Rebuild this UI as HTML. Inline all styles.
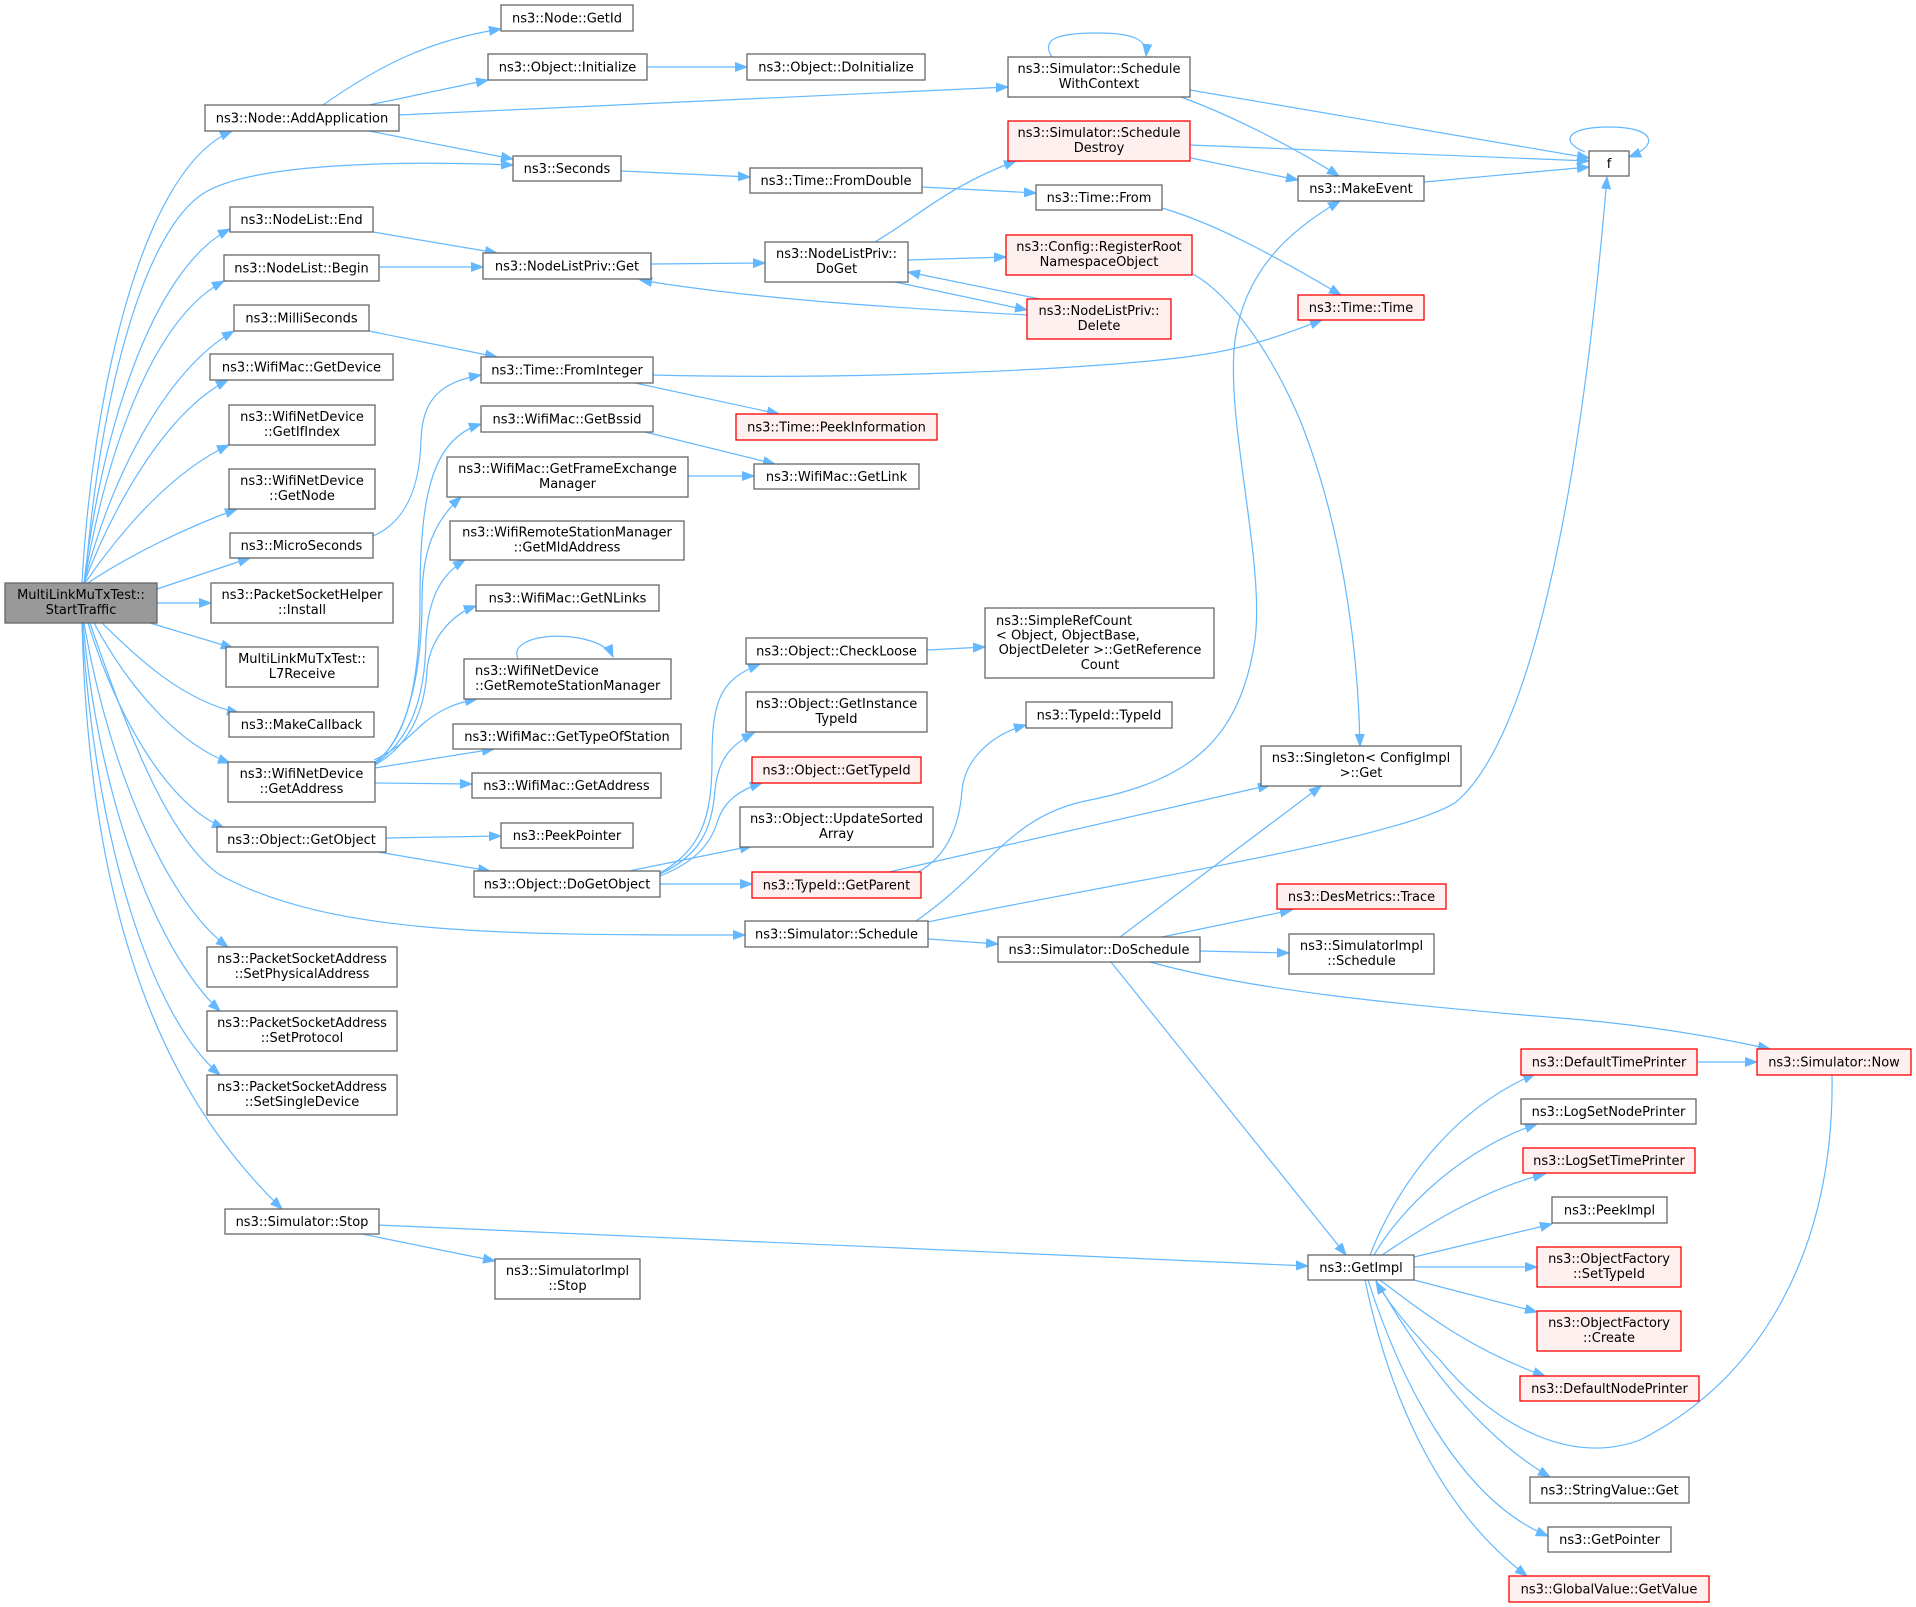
<!DOCTYPE html>
<html>
<head>
<meta charset="utf-8">
<style>
html,body{margin:0;padding:0;background:#fff;}
svg{display:block;}
text{font-family:"DejaVu Sans","Liberation Sans",sans-serif;font-size:13px;fill:#000;}
.n{fill:#fff;stroke:#666;stroke-width:1.3;}
.r{fill:#fff0f0;stroke:#ff0000;stroke-width:1.3;}
.root{fill:#999;stroke:#666;stroke-width:1.3;}
.e{fill:none;stroke:#63b8ff;stroke-width:1.2;marker-end:url(#a);}
</style>
</head>
<body>
<svg width="1916" height="1607" viewBox="0 0 1916 1607" xmlns="http://www.w3.org/2000/svg">
<defs>
<marker id="a" markerUnits="userSpaceOnUse" markerWidth="13" markerHeight="11" refX="12" refY="5" orient="auto">
<path d="M0,0.5 L12,5 L0,9.5 z" fill="#63b8ff" stroke="#63b8ff" stroke-width="1"/>
</marker>
</defs>
<rect width="1916" height="1607" fill="#fff"/>

<!-- edges -->
<g>
<path class="e" d="M82,583 C92,400 140,170 232,131"/>
<path class="e" d="M85,583 C100,390 145,230 204,193 C250,165 380,160 513,165"/>
<path class="e" d="M84,583 C100,440 150,270 230,229"/>
<path class="e" d="M84,583 C105,460 150,320 224,281"/>
<path class="e" d="M84,583 C110,480 165,370 234,331"/>
<path class="e" d="M84,583 C118,495 170,410 228,380"/>
<path class="e" d="M85,583 C125,525 175,470 229,445"/>
<path class="e" d="M88,583 C130,555 185,528 237,509"/>
<path class="e" d="M157,589 L250,558"/>
<path class="e" d="M157,603 L211,603"/>
<path class="e" d="M150,623 L233,648"/>
<path class="e" d="M102,623 C135,655 180,700 239,713"/>
<path class="e" d="M94,623 C130,690 180,745 230,763"/>
<path class="e" d="M88,623 C120,725 170,805 224,828"/>
<path class="e" d="M90,623 C130,740 170,840 220,875 C330,935 500,935 745,935"/>
<path class="e" d="M84,623 C110,775 170,905 228,947"/>
<path class="e" d="M83,623 C100,810 160,955 220,1011"/>
<path class="e" d="M82,623 C95,840 150,1015 220,1075"/>
<path class="e" d="M82,623 C90,950 180,1110 282,1209"/>

<path class="e" d="M323,105 C380,65 430,40 501,29"/>
<path class="e" d="M369,105 L488,80"/>
<path class="e" d="M399,115 L1008,87"/>
<path class="e" d="M369,131 L513,159"/>

<path class="e" d="M647,67 L747,67"/>
<path class="e" d="M621,171 L750,177"/>
<path class="e" d="M922,187 L1036,193"/>
<path class="e" d="M1162,208 C1210,222 1265,250 1341,295"/>
<path class="e" d="M1190,90 L1589,158"/>
<path class="e" d="M1181,97 C1230,115 1290,145 1339,176"/>
<path class="e" d="M1052,57 C1040,38 1060,33 1097,33 C1130,33 1148,38 1146,56"/>
<path class="e" d="M1190,145 L1589,161"/>
<path class="e" d="M1191,158 L1298,180"/>
<path class="e" d="M1424,182 L1589,167"/>
<path class="e" d="M1585,152 C1560,142 1565,127 1609,127 C1655,127 1660,145 1629,157"/>

<path class="e" d="M928,922 C1100,885 1400,840 1456,802 C1530,740 1580,500 1607,177"/>
<path class="e" d="M916,921 C990,870 1010,815 1090,800 C1190,780 1240,740 1255,640 C1265,560 1225,420 1235,340 C1245,270 1290,230 1340,201"/>
<path class="e" d="M928,939 L998,944"/>

<path class="e" d="M373,232 L497,253"/>
<path class="e" d="M379,267 L483,267"/>
<path class="e" d="M651,264 L765,263"/>
<path class="e" d="M1027,315 C900,308 760,300 640,280"/>
<path class="e" d="M875,242 C920,215 950,185 1016,161"/>
<path class="e" d="M908,260 L1006,257"/>
<path class="e" d="M895,282 L1027,310"/>
<path class="e" d="M1040,299 L908,272"/>
<path class="e" d="M1193,274 C1230,295 1270,350 1300,420 C1340,520 1358,640 1360,746"/>

<path class="e" d="M369,331 L497,357"/>
<path class="e" d="M373,536 C410,520 420,480 421,440 C422,400 440,382 481,375"/>
<path class="e" d="M653,375 C850,380 1100,370 1200,355 C1250,348 1290,332 1322,320"/>
<path class="e" d="M635,383 L779,414"/>
<path class="e" d="M645,432 L775,464"/>
<path class="e" d="M688,476 L754,476"/>

<path class="e" d="M375,762 C400,745 420,700 420,600 C420,500 430,440 481,424"/>
<path class="e" d="M375,763 C405,740 422,680 422,600 C422,550 435,520 461,497"/>
<path class="e" d="M375,764 C410,740 425,700 426,640 C428,600 440,575 465,560"/>
<path class="e" d="M375,765 C410,745 425,710 427,670 C430,640 450,615 476,606"/>
<path class="e" d="M374,760 C400,748 410,735 425,722 C440,710 455,703 477,699"/>
<path class="e" d="M375,768 L494,749"/>
<path class="e" d="M375,783 L472,784"/>
<path class="e" d="M518,659 C505,630 600,628 613,657"/>

<path class="e" d="M386,838 L501,836"/>
<path class="e" d="M378,852 L490,871"/>

<path class="e" d="M660,873 C700,850 712,820 712,760 C712,700 720,680 760,664"/>
<path class="e" d="M660,874 C700,855 712,830 715,790 C718,760 730,745 754,733"/>
<path class="e" d="M660,876 C700,860 712,840 718,820 C725,800 740,790 762,783"/>
<path class="e" d="M629,871 L752,846"/>
<path class="e" d="M660,884 L752,884"/>
<path class="e" d="M918,872 C950,855 960,820 962,790 C965,760 990,735 1026,725"/>
<path class="e" d="M889,872 L1270,785"/>
<path class="e" d="M927,650 L985,647"/>

<path class="e" d="M1120,937 L1321,786"/>
<path class="e" d="M1162,937 L1292,910"/>
<path class="e" d="M1200,951 L1289,953"/>
<path class="e" d="M1150,962 C1250,990 1400,1005 1560,1018 C1650,1025 1720,1038 1770,1049"/>
<path class="e" d="M1111,962 L1346,1255"/>

<path class="e" d="M378,1225 L1308,1266"/>
<path class="e" d="M362,1234 L495,1261"/>

<path class="e" d="M1370,1255 C1395,1190 1450,1110 1535,1074"/>
<path class="e" d="M1374,1255 C1400,1210 1460,1150 1537,1124"/>
<path class="e" d="M1382,1255 C1420,1230 1480,1190 1545,1174"/>
<path class="e" d="M1414,1257 L1552,1224"/>
<path class="e" d="M1414,1267 L1537,1267"/>
<path class="e" d="M1414,1280 L1537,1312"/>
<path class="e" d="M1380,1280 C1420,1310 1470,1350 1545,1376"/>
<path class="e" d="M1376,1280 C1410,1340 1470,1430 1550,1477"/>
<path class="e" d="M1368,1280 C1400,1380 1460,1500 1548,1536"/>
<path class="e" d="M1365,1280 C1390,1400 1440,1510 1527,1576"/>
<path class="e" d="M1832,1075 C1835,1250 1760,1380 1640,1440 C1560,1470 1480,1410 1440,1360 C1410,1330 1390,1305 1376,1282"/>
<path class="e" d="M1697,1062 L1757,1062"/>
</g>

<!-- nodes -->
<g text-anchor="middle">
<rect class="root" x="5" y="583" width="152" height="40"/>
<text x="81" y="599">MultiLinkMuTxTest::</text><text x="81" y="614">StartTraffic</text>

<rect class="n" x="205" y="105" width="194" height="26"/>
<text x="302" y="122.5">ns3::Node::AddApplication</text>

<rect class="n" x="501" y="5" width="132" height="26"/>
<text x="567" y="22.5">ns3::Node::GetId</text>

<rect class="n" x="488" y="54" width="159" height="26"/>
<text x="567.5" y="71.5">ns3::Object::Initialize</text>

<rect class="n" x="747" y="54" width="178" height="26"/>
<text x="836" y="71.5">ns3::Object::DoInitialize</text>

<rect class="n" x="1008" y="57" width="182" height="40"/>
<text x="1099" y="73">ns3::Simulator::Schedule</text><text x="1099" y="88">WithContext</text>

<rect class="r" x="1008" y="121" width="182" height="40"/>
<text x="1099" y="137">ns3::Simulator::Schedule</text><text x="1099" y="152">Destroy</text>

<rect class="n" x="1589" y="151" width="40" height="25"/>
<text x="1609" y="168">f</text>

<rect class="n" x="1298" y="176" width="126" height="25"/>
<text x="1361" y="193">ns3::MakeEvent</text>

<rect class="n" x="513" y="156" width="108" height="25"/>
<text x="567" y="173">ns3::Seconds</text>

<rect class="n" x="750" y="168" width="172" height="25"/>
<text x="836" y="185">ns3::Time::FromDouble</text>

<rect class="n" x="1036" y="185" width="126" height="25"/>
<text x="1099" y="202">ns3::Time::From</text>

<rect class="n" x="230" y="207" width="143" height="25"/>
<text x="301.5" y="224">ns3::NodeList::End</text>

<rect class="n" x="224" y="255" width="155" height="26"/>
<text x="301.5" y="272.5">ns3::NodeList::Begin</text>

<rect class="n" x="483" y="253" width="168" height="26"/>
<text x="567" y="270.5">ns3::NodeListPriv::Get</text>

<rect class="n" x="765" y="242" width="143" height="40"/>
<text x="836.5" y="258">ns3::NodeListPriv::</text><text x="836.5" y="273">DoGet</text>

<rect class="r" x="1006" y="235" width="186" height="40"/>
<text x="1099" y="251">ns3::Config::RegisterRoot</text><text x="1099" y="266">NamespaceObject</text>

<rect class="r" x="1027" y="299" width="144" height="40"/>
<text x="1099" y="315">ns3::NodeListPriv::</text><text x="1099" y="330">Delete</text>

<rect class="r" x="1298" y="295" width="126" height="25"/>
<text x="1361" y="312">ns3::Time::Time</text>

<rect class="n" x="234" y="305" width="135" height="26"/>
<text x="301.5" y="322.5">ns3::MilliSeconds</text>

<rect class="n" x="481" y="357" width="172" height="26"/>
<text x="567" y="374.5">ns3::Time::FromInteger</text>

<rect class="n" x="210" y="354" width="183" height="26"/>
<text x="301.5" y="371.5">ns3::WifiMac::GetDevice</text>

<rect class="r" x="736" y="414" width="201" height="26"/>
<text x="836.5" y="431.5">ns3::Time::PeekInformation</text>

<rect class="n" x="229" y="405" width="146" height="40"/>
<text x="302" y="421">ns3::WifiNetDevice</text><text x="302" y="436">::GetIfIndex</text>

<rect class="n" x="481" y="406" width="172" height="26"/>
<text x="567" y="423.5">ns3::WifiMac::GetBssid</text>

<rect class="n" x="447" y="457" width="241" height="40"/>
<text x="567.5" y="473">ns3::WifiMac::GetFrameExchange</text><text x="567.5" y="488">Manager</text>

<rect class="n" x="754" y="464" width="165" height="25"/>
<text x="836.5" y="481">ns3::WifiMac::GetLink</text>

<rect class="n" x="229" y="469" width="146" height="40"/>
<text x="302" y="485">ns3::WifiNetDevice</text><text x="302" y="500">::GetNode</text>

<rect class="n" x="230" y="533" width="143" height="25"/>
<text x="301.5" y="550">ns3::MicroSeconds</text>

<rect class="n" x="450" y="521" width="234" height="39"/>
<text x="567" y="536.5">ns3::WifiRemoteStationManager</text><text x="567" y="551.5">::GetMldAddress</text>

<rect class="n" x="211" y="583" width="182" height="40"/>
<text x="302" y="599">ns3::PacketSocketHelper</text><text x="302" y="614">::Install</text>

<rect class="n" x="476" y="585" width="183" height="26"/>
<text x="567.5" y="602.5">ns3::WifiMac::GetNLinks</text>

<rect class="n" x="226" y="647" width="152" height="40"/>
<text x="302" y="663">MultiLinkMuTxTest::</text><text x="302" y="678">L7Receive</text>

<rect class="n" x="464" y="659" width="207" height="40"/>
<text x="475" y="675" text-anchor="start">ns3::WifiNetDevice</text><text x="475" y="690" text-anchor="start">::GetRemoteStationManager</text>

<rect class="n" x="229" y="712" width="145" height="25"/>
<text x="301.5" y="729">ns3::MakeCallback</text>

<rect class="n" x="453" y="724" width="228" height="25"/>
<text x="567" y="741">ns3::WifiMac::GetTypeOfStation</text>

<rect class="n" x="228" y="762" width="147" height="40"/>
<text x="301.5" y="778">ns3::WifiNetDevice</text><text x="301.5" y="793">::GetAddress</text>

<rect class="n" x="472" y="773" width="189" height="25"/>
<text x="566.5" y="790">ns3::WifiMac::GetAddress</text>

<rect class="n" x="217" y="827" width="169" height="25"/>
<text x="301.5" y="844">ns3::Object::GetObject</text>

<rect class="n" x="501" y="823" width="132" height="25"/>
<text x="567" y="840">ns3::PeekPointer</text>

<rect class="n" x="474" y="871" width="186" height="26"/>
<text x="567" y="888.5">ns3::Object::DoGetObject</text>

<rect class="n" x="746" y="638" width="181" height="26"/>
<text x="836.5" y="655.5">ns3::Object::CheckLoose</text>

<rect class="n" x="985" y="608" width="229" height="70"/>
<text x="996" y="625" text-anchor="start">ns3::SimpleRefCount</text>
<text x="996" y="639.5" text-anchor="start">&lt; Object, ObjectBase,</text>
<text x="1100" y="654">ObjectDeleter &gt;::GetReference</text>
<text x="1100" y="669">Count</text>

<rect class="n" x="746" y="692" width="181" height="40"/>
<text x="836.5" y="708">ns3::Object::GetInstance</text><text x="836.5" y="723">TypeId</text>

<rect class="n" x="1026" y="702" width="146" height="26"/>
<text x="1099" y="719.5">ns3::TypeId::TypeId</text>

<rect class="r" x="752" y="757" width="169" height="26"/>
<text x="836.5" y="774.5">ns3::Object::GetTypeId</text>

<rect class="n" x="740" y="807" width="193" height="40"/>
<text x="836.5" y="823">ns3::Object::UpdateSorted</text><text x="836.5" y="838">Array</text>

<rect class="n" x="1261" y="746" width="200" height="40"/>
<text x="1361" y="762">ns3::Singleton&lt; ConfigImpl</text><text x="1361" y="777">&gt;::Get</text>

<rect class="r" x="752" y="872" width="169" height="26"/>
<text x="836.5" y="889.5">ns3::TypeId::GetParent</text>

<rect class="r" x="1277" y="884" width="169" height="25"/>
<text x="1361.5" y="901">ns3::DesMetrics::Trace</text>

<rect class="n" x="745" y="921" width="183" height="26"/>
<text x="836.5" y="938.5">ns3::Simulator::Schedule</text>

<rect class="n" x="998" y="937" width="202" height="25"/>
<text x="1099" y="954">ns3::Simulator::DoSchedule</text>

<rect class="n" x="1289" y="934" width="145" height="40"/>
<text x="1361.5" y="950">ns3::SimulatorImpl</text><text x="1361.5" y="965">::Schedule</text>

<rect class="n" x="207" y="947" width="190" height="40"/>
<text x="302" y="963">ns3::PacketSocketAddress</text><text x="302" y="978">::SetPhysicalAddress</text>

<rect class="n" x="207" y="1011" width="190" height="40"/>
<text x="302" y="1027">ns3::PacketSocketAddress</text><text x="302" y="1042">::SetProtocol</text>

<rect class="n" x="207" y="1075" width="190" height="40"/>
<text x="302" y="1091">ns3::PacketSocketAddress</text><text x="302" y="1106">::SetSingleDevice</text>

<rect class="r" x="1521" y="1049" width="176" height="26"/>
<text x="1609" y="1066.5">ns3::DefaultTimePrinter</text>

<rect class="r" x="1757" y="1049" width="154" height="26"/>
<text x="1834" y="1066.5">ns3::Simulator::Now</text>

<rect class="n" x="1521" y="1099" width="175" height="25"/>
<text x="1608.5" y="1116">ns3::LogSetNodePrinter</text>

<rect class="r" x="1523" y="1148" width="172" height="25"/>
<text x="1609" y="1165">ns3::LogSetTimePrinter</text>

<rect class="n" x="1552" y="1197" width="115" height="26"/>
<text x="1609.5" y="1214.5">ns3::PeekImpl</text>

<rect class="r" x="1537" y="1247" width="144" height="40"/>
<text x="1609" y="1263">ns3::ObjectFactory</text><text x="1609" y="1278">::SetTypeId</text>

<rect class="r" x="1537" y="1311" width="144" height="40"/>
<text x="1609" y="1327">ns3::ObjectFactory</text><text x="1609" y="1342">::Create</text>

<rect class="r" x="1520" y="1376" width="179" height="25"/>
<text x="1609.5" y="1393">ns3::DefaultNodePrinter</text>

<rect class="n" x="1530" y="1477" width="159" height="26"/>
<text x="1609.5" y="1494.5">ns3::StringValue::Get</text>

<rect class="n" x="1548" y="1527" width="123" height="25"/>
<text x="1609.5" y="1544">ns3::GetPointer</text>

<rect class="r" x="1509" y="1576" width="200" height="26"/>
<text x="1609" y="1593.5">ns3::GlobalValue::GetValue</text>

<rect class="n" x="1308" y="1255" width="106" height="25"/>
<text x="1361" y="1272">ns3::GetImpl</text>

<rect class="n" x="225" y="1209" width="154" height="25"/>
<text x="302" y="1226">ns3::Simulator::Stop</text>

<rect class="n" x="495" y="1259" width="145" height="40"/>
<text x="567.5" y="1275">ns3::SimulatorImpl</text><text x="567.5" y="1290">::Stop</text>
</g>
</svg>
</body>
</html>
